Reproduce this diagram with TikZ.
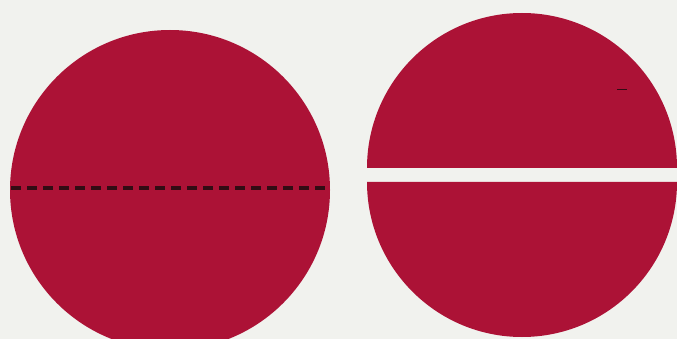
\documentclass[tikz,border=0pt]{standalone}
\begin{document}
\begin{tikzpicture}[x=1pt,y=-1pt]
\definecolor{bg}{RGB}{241,242,238}
\definecolor{disc}{RGB}{172,18,54}
\definecolor{cut}{RGB}{50,12,20}
\tikzset{discfill/.style={fill=disc,draw=none},
  cutline/.style={draw=cut,line width=4pt,dash pattern=on 10pt off 6pt}}
\useasboundingbox (0,0) rectangle (677,339);
\fill[bg] (0,0) rectangle (677,339);
\clip (0,0) rectangle (677,339);
% left disc
\fill[discfill] (170,190) circle[radius=160];
\coordinate (L1) at (11,188);
\coordinate (L2) at (330,188);
\draw[cutline] (L1) -- (L2);
% right disc halves
\fill[discfill] (367,168) arc[start angle=180,end angle=360,radius=155] -- cycle;
\fill[discfill] (367,182) arc[start angle=180,end angle=0,radius=155] -- cycle;
\coordinate (M1) at (617,89);
\coordinate (M2) at (627,89);
\draw[cut,line width=0.8pt] (M1) -- (M2);
\end{tikzpicture}
\end{document}
